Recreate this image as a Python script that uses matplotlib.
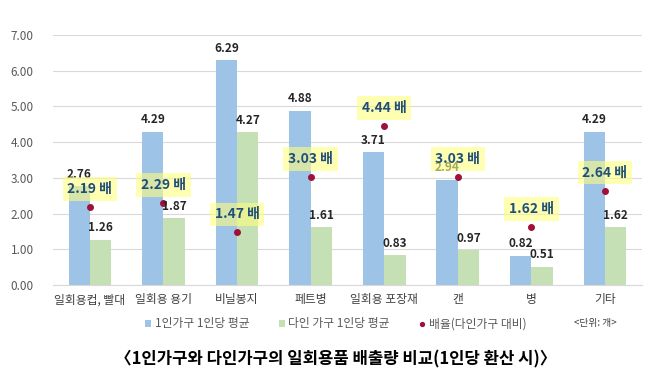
import matplotlib
matplotlib.use("Agg")
import matplotlib.pyplot as plt
import numpy as np

plt.rcParams['font.family'] = ['Noto Sans CJK KR', 'DejaVu Sans']

categories = ["일회용컵, 빨대", "일회용 용기", "비닐봉지", "페트병", "일회용 포장재", "캔", "병", "기타"]
single = [2.76, 4.29, 6.29, 4.88, 3.71, 2.94, 0.82, 4.29]
multi = [1.26, 1.87, 4.27, 1.61, 0.83, 0.97, 0.51, 1.62]
ratio = [2.19, 2.29, 1.47, 3.03, 4.44, 3.03, 1.62, 2.64]
yticks = [0, 1, 2, 3, 4, 5, 6, 7]

blue = "#9dc3e6"
green = "#c5e0b4"
dot = "#a0103a"

fig = plt.figure(figsize=(6.72, 3.84), dpi=100)
ax = fig.add_axes([0.079, 0.258, 0.876, 0.651])

x = np.arange(len(categories))
w = 0.29
b1 = ax.bar(x - w / 2, single, w, color=blue, label="1인가구 1인당 평균", zorder=2)
b2 = ax.bar(x + w / 2, multi, w, color=green, label="다인 가구 1인당 평균", zorder=2)
d, = ax.plot(x, ratio, 'o', color=dot, markersize=4, label="배율(다인가구 대비)", zorder=4)

for i in range(len(x)):
    ax.annotate(f"{single[i]:.2f}", (x[i] - w / 2, single[i]), xytext=(0, 4),
                textcoords="offset points", ha="center", va="bottom",
                fontsize=8.5, fontweight="bold", color="#262626", zorder=5)
    ax.annotate(f"{multi[i]:.2f}", (x[i] + w / 2, multi[i]), xytext=(0, 4),
                textcoords="offset points", ha="center", va="bottom",
                fontsize=8.5, fontweight="bold", color="#262626", zorder=5)
    ax.annotate(f"{ratio[i]:.2f} 배", (x[i], ratio[i]), xytext=(0, 13),
                textcoords="offset points", ha="center", va="center",
                fontsize=10, fontweight="bold", color="#1f4e79", zorder=6,
                bbox=dict(boxstyle="square,pad=0.35", fc="#ffff80", ec="none", alpha=0.6))

ax.set_xlim(-0.5, 7.5)
ax.set_ylim(0, 7)
ax.set_yticks(yticks)
ax.set_yticklabels([f"{v:.2f}" for v in yticks], fontsize=8.5, color="#595959")
ax.set_xticks(x)
ax.set_xticklabels(categories, fontsize=8.5, color="#404040")
ax.tick_params(length=0, pad=6)
ax.tick_params(axis='y', pad=14)
ax.grid(axis='y', color="#d9d9d9", linewidth=0.8, zorder=0)
for s in ["top", "right", "left"]:
    ax.spines[s].set_visible(False)
ax.spines["bottom"].set_color("#d9d9d9")

ax.legend(handles=[b1, b2, d], loc="center", bbox_to_anchor=(336 / 672, 1 - 324 / 384),
          bbox_transform=fig.transFigure, ncol=3, frameon=False, fontsize=8.5,
          handlelength=0.5, handleheight=0.5, columnspacing=2.5, handletextpad=0.3,
          labelcolor="#595959", markerscale=0.7)

fig.text(595 / 672, 1 - 323 / 384, "<단위: 개>", fontsize=7, ha="center", va="center", color="#404040")
fig.text(0.5, 1 - 359 / 384, "〈1인가구와 다인가구의 일회용품 배출량 비교(1인당 환산 시)〉",
         fontsize=12, fontweight="bold", ha="center", va="center", color="black")

fig.savefig("out.png", dpi=100)
